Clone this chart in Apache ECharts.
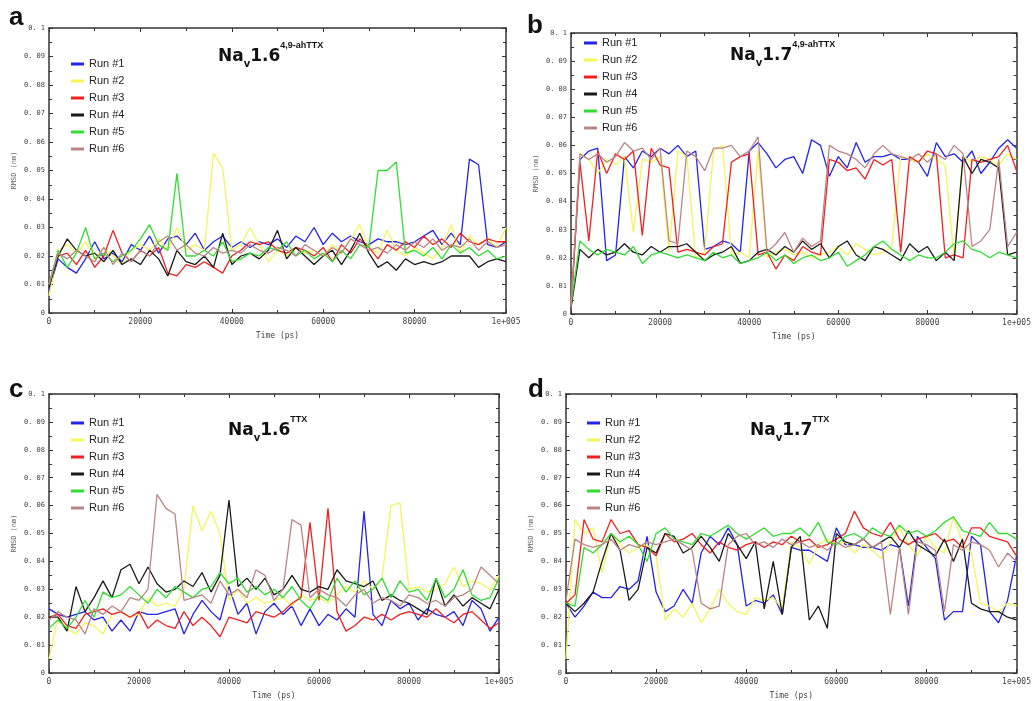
<!DOCTYPE html>
<html><head><meta charset="utf-8">
<script src="https://cdn.jsdelivr.net/npm/echarts@6/dist/echarts.min.js"></script>
<style>html,body{margin:0;padding:0;background:#fff}#c{width:1034px;height:701px}</style>
</head><body><div id="c"></div>
<script>
// Time (ps), sampled every 2000 ps
const TIME = [0,2000,4000,6000,8000,10000,12000,14000,16000,18000,20000,22000,24000,26000,28000,30000,32000,34000,36000,38000,40000,42000,44000,46000,48000,50000,52000,54000,56000,58000,60000,62000,64000,66000,68000,70000,72000,74000,76000,78000,80000,82000,84000,86000,88000,90000,92000,94000,96000,98000,100000];
const RUN_NAMES = ['Run #1','Run #2','Run #3','Run #4','Run #5','Run #6'];
const PANEL_LETTERS = ['a','b','c','d'];

// Panel a: Nav1.6 4,9-ahTTX
const A1 = [0.008,0.019,0.016,0.014,0.019,0.025,0.019,0.021,0.018,0.024,0.022,0.027,0.021,0.026,0.027,0.024,0.028,0.022,0.025,0.027,0.023,0.025,0.023,0.025,0.024,0.026,0.023,0.027,0.025,0.030,0.024,0.028,0.025,0.027,0.025,0.024,0.026,0.025,0.025,0.024,0.025,0.027,0.029,0.024,0.028,0.024,0.054,0.052,0.024,0.023,0.025];
const A2 = [0.006,0.022,0.024,0.021,0.025,0.019,0.023,0.020,0.017,0.022,0.024,0.022,0.026,0.022,0.030,0.022,0.024,0.022,0.056,0.051,0.022,0.024,0.030,0.024,0.018,0.022,0.020,0.023,0.021,0.022,0.020,0.024,0.021,0.026,0.031,0.023,0.021,0.029,0.022,0.020,0.023,0.021,0.019,0.023,0.031,0.021,0.027,0.024,0.026,0.023,0.030];
const A3 = [0.010,0.020,0.021,0.017,0.022,0.016,0.020,0.029,0.021,0.018,0.022,0.020,0.023,0.014,0.013,0.017,0.016,0.018,0.016,0.014,0.020,0.022,0.025,0.024,0.025,0.022,0.021,0.023,0.022,0.020,0.023,0.018,0.024,0.021,0.026,0.023,0.019,0.024,0.022,0.025,0.023,0.027,0.024,0.026,0.023,0.028,0.025,0.024,0.026,0.025,0.025];
const A4 = [0.009,0.020,0.026,0.022,0.020,0.021,0.018,0.022,0.017,0.019,0.017,0.022,0.019,0.013,0.022,0.018,0.017,0.020,0.016,0.028,0.017,0.020,0.021,0.019,0.022,0.029,0.019,0.023,0.020,0.017,0.020,0.022,0.017,0.022,0.028,0.021,0.016,0.018,0.015,0.019,0.017,0.018,0.017,0.018,0.020,0.020,0.020,0.016,0.018,0.019,0.018];
const A5 = [0.010,0.022,0.016,0.021,0.030,0.019,0.021,0.018,0.020,0.022,0.026,0.031,0.024,0.022,0.049,0.020,0.020,0.022,0.020,0.025,0.018,0.019,0.021,0.020,0.023,0.022,0.025,0.020,0.022,0.019,0.021,0.018,0.022,0.019,0.024,0.023,0.050,0.050,0.053,0.021,0.022,0.020,0.023,0.019,0.024,0.021,0.023,0.020,0.022,0.019,0.020];
const A6 = [0.010,0.021,0.019,0.022,0.020,0.018,0.023,0.017,0.021,0.018,0.022,0.020,0.025,0.027,0.022,0.024,0.021,0.020,0.023,0.021,0.022,0.021,0.024,0.022,0.021,0.023,0.022,0.020,0.024,0.022,0.020,0.023,0.021,0.026,0.024,0.022,0.023,0.021,0.024,0.022,0.025,0.023,0.026,0.022,0.024,0.023,0.026,0.022,0.025,0.023,0.024];

// Panel b: Nav1.7 4,9-ahTTX
const B1 = [0.002,0.055,0.058,0.059,0.019,0.021,0.056,0.052,0.058,0.056,0.059,0.057,0.060,0.056,0.058,0.023,0.024,0.026,0.025,0.022,0.058,0.061,0.057,0.052,0.055,0.056,0.050,0.062,0.060,0.049,0.056,0.052,0.061,0.054,0.056,0.056,0.057,0.055,0.055,0.054,0.049,0.061,0.056,0.057,0.054,0.058,0.050,0.054,0.059,0.062,0.059];
const B2 = [0.003,0.057,0.055,0.050,0.055,0.053,0.056,0.029,0.055,0.054,0.056,0.022,0.058,0.056,0.020,0.022,0.058,0.060,0.021,0.022,0.020,0.058,0.020,0.022,0.023,0.021,0.022,0.020,0.021,0.022,0.024,0.021,0.025,0.023,0.021,0.022,0.024,0.056,0.055,0.054,0.057,0.055,0.053,0.020,0.056,0.054,0.056,0.055,0.053,0.057,0.055];
const B3 = [0.002,0.054,0.026,0.058,0.050,0.057,0.055,0.058,0.028,0.059,0.053,0.052,0.022,0.023,0.022,0.021,0.024,0.025,0.054,0.056,0.057,0.021,0.022,0.016,0.021,0.019,0.024,0.022,0.021,0.055,0.054,0.051,0.052,0.048,0.055,0.053,0.055,0.022,0.056,0.054,0.058,0.057,0.020,0.021,0.020,0.055,0.054,0.055,0.056,0.060,0.051];
const B4 = [0.002,0.023,0.020,0.023,0.021,0.022,0.025,0.022,0.021,0.024,0.022,0.024,0.024,0.025,0.022,0.019,0.021,0.022,0.024,0.018,0.019,0.022,0.023,0.021,0.024,0.022,0.026,0.023,0.025,0.020,0.024,0.026,0.021,0.019,0.024,0.023,0.021,0.019,0.025,0.022,0.024,0.019,0.022,0.019,0.056,0.050,0.055,0.054,0.052,0.021,0.022];
const B5 = [0.003,0.026,0.023,0.021,0.023,0.022,0.021,0.024,0.018,0.021,0.022,0.021,0.020,0.021,0.020,0.019,0.022,0.020,0.021,0.018,0.019,0.020,0.022,0.019,0.021,0.018,0.020,0.021,0.019,0.020,0.022,0.017,0.019,0.021,0.024,0.026,0.023,0.021,0.019,0.021,0.020,0.020,0.022,0.025,0.026,0.023,0.022,0.020,0.022,0.021,0.020];
const B6 = [0.002,0.057,0.055,0.057,0.054,0.056,0.061,0.058,0.059,0.055,0.059,0.026,0.025,0.058,0.056,0.051,0.059,0.059,0.060,0.056,0.058,0.063,0.022,0.025,0.029,0.022,0.027,0.024,0.026,0.060,0.058,0.057,0.055,0.052,0.057,0.060,0.057,0.056,0.055,0.057,0.054,0.057,0.055,0.060,0.057,0.024,0.026,0.030,0.055,0.024,0.029];

// Panel c: Nav1.6 TTX
const C1 = [0.023,0.021,0.020,0.021,0.022,0.019,0.020,0.015,0.019,0.015,0.022,0.021,0.021,0.022,0.023,0.014,0.021,0.026,0.022,0.019,0.031,0.021,0.025,0.014,0.022,0.025,0.021,0.024,0.017,0.023,0.017,0.021,0.019,0.023,0.020,0.058,0.021,0.017,0.026,0.023,0.025,0.019,0.023,0.021,0.020,0.022,0.017,0.026,0.023,0.015,0.020];
const C2 = [0.005,0.020,0.016,0.014,0.018,0.017,0.014,0.021,0.022,0.020,0.021,0.027,0.024,0.025,0.024,0.030,0.060,0.051,0.058,0.050,0.026,0.030,0.025,0.027,0.025,0.026,0.027,0.024,0.028,0.026,0.027,0.025,0.028,0.031,0.029,0.033,0.030,0.034,0.060,0.061,0.030,0.031,0.029,0.030,0.032,0.038,0.031,0.033,0.032,0.030,0.035];
const C3 = [0.020,0.021,0.017,0.016,0.021,0.022,0.023,0.021,0.022,0.020,0.022,0.016,0.019,0.017,0.016,0.022,0.017,0.020,0.017,0.013,0.020,0.019,0.018,0.022,0.021,0.020,0.022,0.025,0.027,0.054,0.026,0.059,0.022,0.015,0.017,0.020,0.019,0.021,0.019,0.021,0.022,0.021,0.020,0.023,0.020,0.018,0.021,0.022,0.019,0.016,0.018];
const C4 = [0.020,0.020,0.015,0.031,0.022,0.027,0.033,0.027,0.037,0.039,0.032,0.038,0.032,0.029,0.030,0.033,0.031,0.036,0.029,0.035,0.062,0.031,0.034,0.030,0.034,0.028,0.030,0.035,0.030,0.029,0.031,0.030,0.037,0.033,0.032,0.031,0.033,0.026,0.028,0.026,0.025,0.023,0.021,0.034,0.024,0.028,0.024,0.027,0.025,0.023,0.030];
const C5 = [0.016,0.019,0.016,0.020,0.026,0.020,0.029,0.027,0.028,0.031,0.028,0.025,0.030,0.027,0.031,0.029,0.027,0.030,0.031,0.036,0.032,0.034,0.029,0.031,0.028,0.030,0.027,0.031,0.026,0.023,0.028,0.026,0.034,0.029,0.033,0.028,0.030,0.034,0.027,0.033,0.029,0.030,0.026,0.034,0.027,0.030,0.037,0.028,0.026,0.027,0.034];
const C6 = [0.019,0.022,0.020,0.019,0.014,0.023,0.021,0.024,0.022,0.027,0.026,0.030,0.064,0.059,0.057,0.026,0.027,0.028,0.025,0.033,0.028,0.030,0.027,0.037,0.035,0.026,0.030,0.055,0.053,0.027,0.030,0.028,0.027,0.024,0.028,0.030,0.025,0.027,0.026,0.024,0.028,0.027,0.025,0.026,0.024,0.027,0.028,0.030,0.038,0.035,0.032];

// Panel d: Nav1.7 TTX
const D1 = [0.025,0.020,0.024,0.029,0.027,0.027,0.031,0.030,0.033,0.049,0.029,0.022,0.024,0.030,0.025,0.043,0.049,0.046,0.052,0.046,0.024,0.026,0.025,0.028,0.021,0.045,0.044,0.044,0.042,0.040,0.052,0.046,0.046,0.045,0.045,0.044,0.046,0.045,0.024,0.049,0.045,0.041,0.019,0.022,0.022,0.049,0.046,0.022,0.018,0.026,0.042];
const D2 = [0.005,0.055,0.050,0.052,0.036,0.050,0.046,0.043,0.045,0.046,0.042,0.019,0.023,0.020,0.025,0.018,0.023,0.030,0.025,0.022,0.021,0.027,0.026,0.027,0.023,0.047,0.045,0.039,0.046,0.048,0.046,0.047,0.043,0.046,0.044,0.041,0.047,0.052,0.046,0.042,0.049,0.045,0.043,0.056,0.047,0.043,0.025,0.024,0.022,0.025,0.024];
const D3 = [0.025,0.028,0.055,0.048,0.047,0.055,0.050,0.051,0.046,0.045,0.042,0.050,0.047,0.048,0.050,0.046,0.043,0.047,0.045,0.044,0.046,0.047,0.045,0.047,0.046,0.049,0.047,0.048,0.045,0.046,0.048,0.050,0.058,0.052,0.050,0.049,0.054,0.048,0.046,0.048,0.049,0.050,0.047,0.048,0.045,0.052,0.052,0.049,0.048,0.047,0.042];
const D4 = [0.025,0.022,0.025,0.029,0.040,0.050,0.044,0.026,0.030,0.045,0.043,0.050,0.049,0.043,0.045,0.049,0.045,0.040,0.050,0.046,0.041,0.047,0.023,0.040,0.021,0.045,0.049,0.019,0.024,0.016,0.050,0.047,0.046,0.048,0.045,0.047,0.049,0.045,0.051,0.046,0.044,0.042,0.048,0.040,0.048,0.025,0.023,0.022,0.022,0.020,0.019];
const D5 = [0.025,0.024,0.045,0.043,0.046,0.050,0.047,0.049,0.046,0.040,0.050,0.052,0.048,0.047,0.046,0.050,0.049,0.051,0.053,0.050,0.048,0.050,0.052,0.049,0.050,0.050,0.052,0.049,0.054,0.047,0.046,0.049,0.050,0.048,0.052,0.050,0.049,0.053,0.050,0.051,0.049,0.051,0.054,0.056,0.051,0.050,0.049,0.054,0.050,0.050,0.048];
const D6 = [0.026,0.048,0.046,0.045,0.046,0.048,0.044,0.046,0.045,0.047,0.046,0.047,0.048,0.046,0.044,0.025,0.023,0.024,0.046,0.049,0.050,0.046,0.047,0.045,0.048,0.046,0.047,0.045,0.046,0.044,0.047,0.045,0.046,0.048,0.045,0.047,0.021,0.045,0.021,0.047,0.046,0.044,0.022,0.046,0.044,0.047,0.046,0.044,0.038,0.043,0.040];

const COLORS = ['#2424e8','#f5f55a','#f02020','#1a1a1a','#30dd30','#bb8585'];

const panels = [
  {grid:{left:49,top:28,width:457,height:285}, runs:[A1,A2,A3,A4,A5,A6], ver:'1.6', sup:'4,9-ahTTX', tx:218, ty:54, lx:71, ly:58, letter:[9,18]},
  {grid:{left:571,top:33,width:449,height:281}, runs:[B1,B2,B3,B4,B5,B6], ver:'1.7', sup:'4,9-ahTTX', tx:730, ty:53, lx:584, ly:37, letter:[527,26]},
  {grid:{left:49,top:394,width:450,height:283}, runs:[C1,C2,C3,C4,C5,C6], ver:'1.6', sup:'TTX', tx:228, ty:428, lx:71, ly:417, letter:[9,390]},
  {grid:{left:566,top:394,width:453,height:285}, runs:[D1,D2,D3,D4,D5,D6], ver:'1.7', sup:'TTX', tx:750, ty:428, lx:587, ly:417, letter:[528,390]}
];

const MONO = 'DejaVu Sans Mono';
const axisLine = {show:true, onZero:false, lineStyle:{color:'#333', width:1.5}};
const grids=[], xAxes=[], yAxes=[], series=[], legends=[], graphics=[];

panels.forEach((p, pi) => {
  grids.push(Object.assign({containLabel:false}, p.grid));
  const xBase = {type:'value', gridIndex:pi, min:0, max:100000, interval:20000,
    axisLine, splitLine:{show:false},
    axisTick:{inside:true, length:4, lineStyle:{color:'#333'}},
    minorTick:{show:true, splitNumber:2, length:3, lineStyle:{color:'#333'}}};
  xAxes.push(Object.assign({}, xBase, {position:'bottom',
    name:'Time (ps)', nameLocation:'middle', nameGap:19,
    nameTextStyle:{fontFamily:MONO, fontSize:8, color:'#444'},
    axisLabel:{fontFamily:MONO, fontSize:8, color:'#444', margin:5,
      formatter: v => v >= 100000 ? '1e+005' : String(v)}}));
  xAxes.push(Object.assign({}, xBase, {position:'top', axisLabel:{show:false}}));
  const yBase = {type:'value', gridIndex:pi, min:0, max:0.1, interval:0.01,
    axisLine, splitLine:{show:false},
    axisTick:{inside:true, length:4, lineStyle:{color:'#333'}},
    minorTick:{show:true, splitNumber:2, length:3, lineStyle:{color:'#333'}}};
  yAxes.push(Object.assign({}, yBase, {position:'left',
    name:'RMSD (nm)', nameLocation:'middle', nameGap:31, nameRotate:90,
    nameTextStyle:{fontFamily:MONO, fontSize:7, color:'#666'},
    axisLabel:{fontFamily:MONO, fontSize:7, color:'#444', margin:4,
      formatter: v => { if (v === 0) return '0'; const k = Math.round(v*100); return k >= 10 ? '0. 1' : '0. 0' + k; }}}));
  yAxes.push(Object.assign({}, yBase, {position:'right', axisLabel:{show:false}}));

  p.runs.forEach((vals, ri) => {
    series.push({type:'line', name:RUN_NAMES[ri], xAxisIndex:2*pi, yAxisIndex:2*pi,
      data: TIME.map((t,i) => [t, vals[i]]), showSymbol:false, symbol:'none',
      color:COLORS[ri], lineStyle:{width:1.3, color:COLORS[ri]}, z: 2});
  });

  legends.push({data:RUN_NAMES, orient:'vertical', left:p.lx, top:p.ly, itemGap:5, padding:0,
    itemWidth:13, itemHeight:3, icon:'rect', selectedMode:false,
    textStyle:{fontFamily:'Liberation Sans', fontSize:11, color:'#222', lineHeight:12}});

  graphics.push({type:'text', left:p.tx, top:p.ty-13, style:{
    text:'{n|Na}{s|v}{n|' + p.ver + '}{p|' + p.sup + '}',
    rich:{
      n:{fontFamily:'DejaVu Sans', fontSize:17, fontWeight:'bold', fill:'#111', lineHeight:24, verticalAlign:'bottom'},
      s:{fontFamily:'DejaVu Sans', fontSize:10, fontWeight:'bold', fill:'#111', lineHeight:24, verticalAlign:'bottom', padding:[0,0,-4,0]},
      p:{fontFamily:'Liberation Sans', fontSize:9, fontWeight:'bold', fill:'#111', lineHeight:24, verticalAlign:'top'}
    }}});
  graphics.push({type:'text', x:p.letter[0], y:p.letter[1], style:{
    text:PANEL_LETTERS[pi], fontFamily:'Liberation Sans', fontSize:26, fontWeight:'bold', fill:'#111',
    verticalAlign:'middle'}});
});

const chart = echarts.init(document.getElementById('c'), null, {renderer:'canvas'});
chart.setOption({animation:false, backgroundColor:'#fff', grid:grids, xAxis:xAxes, yAxis:yAxes,
  series, legend:legends, graphic:graphics});
</script></body></html>
